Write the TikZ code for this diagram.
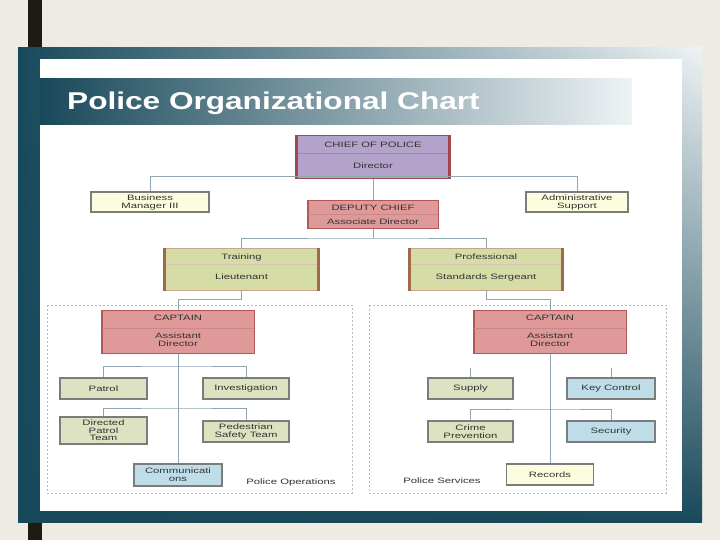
\documentclass[tikz,border=0pt]{standalone}
\usepackage{fontspec}
\usetikzlibrary{shadings}
\setmainfont{Liberation Sans}[FakeStretch=1.45]
\newfontfamily\titlefont{Liberation Sans}[FakeStretch=1.3]
\definecolor{bgc}{HTML}{EDEBE4}
\definecolor{teal1}{HTML}{18495A}
\definecolor{tealhi}{HTML}{EEF3F5}
\definecolor{barc}{HTML}{1C1C14}
\definecolor{purp}{HTML}{B3A3CB}
\definecolor{purpdr}{HTML}{A0484E}
\definecolor{salm}{HTML}{E09999}
\definecolor{salmdr}{HTML}{B25656}
\definecolor{oliv}{HTML}{D6DCA6}
\definecolor{olivdr}{HTML}{A06A48}
\definecolor{lgreen}{HTML}{DCE3C1}
\definecolor{lyel}{HTML}{FDFCDD}
\definecolor{lblue}{HTML}{BEDDE8}
\definecolor{boxgr}{HTML}{7C7C7C}
\definecolor{linec}{HTML}{8FA5B0}
\definecolor{txtc}{HTML}{333333}
\tikzset{
  conn/.style={draw=linec, line width=0.9pt},
  boxbase/.style={rectangle, inner sep=0pt},
  smallbox/.style={boxbase, draw=boxgr, line width=1.8pt},
  bigbox/.style={boxbase, draw=#1, line width=1pt},
  txt/.style={inner sep=0pt, align=center, text=txtc, font=\fontsize{7.8}{8}\selectfont},
  divider/.style={draw=#1, line width=0.6pt},
  grpbox/.style={draw=gray!55, line width=0.6pt, dash pattern=on 2pt off 2pt},
}
\begin{document}
\begin{tikzpicture}[x=1pt,y=-1pt]
\useasboundingbox (0,0) rectangle (720,540);
% background and frame
\fill[bgc] (0,0) rectangle (720,540);
\fill[barc] (28,0) rectangle (42,48);
\fill[barc] (28,522) rectangle (42,540);
\shade[upper left=teal1, upper right=tealhi, lower left=teal1, lower right=teal1] (18,48) rectangle (702,522);
\fill[white] (40,59) rectangle (682,511);
\shade[left color=teal1, right color=tealhi] (40,79) rectangle (632,125);
\node[anchor=west, inner sep=0pt, text=white, font=\titlefont\bfseries\fontsize{24.3}{27}\selectfont] (title) at (67,103) {Police Organizational Chart};

% group boxes
\draw[grpbox] (47,305) rectangle (352,493);
\draw[grpbox] (369,305) rectangle (666,493);

% top level
\node[bigbox=purpdr, fill=purp, minimum width=152pt, minimum height=43pt] (chief) at (373,157.5) {};
\draw[divider=purpdr!70] (chief.west |- 0,153) -- (chief.east |- 0,153);
\draw[purpdr, line width=2.2pt] (chief.north west) -- (chief.south west);
\draw[purpdr, line width=2.2pt] (chief.north east) -- (chief.south east);
\node[txt] (chiefa) at (373,145) {CHIEF OF POLICE};
\node[txt] (chiefb) at (373,166) {Director};

\node[smallbox, fill=lyel, minimum width=118pt, minimum height=20pt] (bm) at (150,202) {};
\node[txt] (bmt) at (150,202.5) {Business\\Manager III};
\node[smallbox, fill=lyel, minimum width=102pt, minimum height=20pt] (as) at (577,202) {};
\node[txt] (ast) at (577,202.5) {Administrative\\Support};

\node[bigbox=salmdr, fill=salm, minimum width=130pt, minimum height=28pt] (dep) at (373,215) {};
\draw[divider=salmdr!70] (dep.west |- 0,214.5) -- (dep.east |- 0,214.5);
\draw[salmdr, line width=1.8pt] (dep.north west) -- (dep.south west);
\draw[salmdr, line width=1.8pt] (dep.north east) -- (dep.south east);
\node[txt] (depa) at (373,208) {DEPUTY CHIEF};
\node[txt] (depb) at (373,221.5) {Associate Director};

\draw[conn] (chief.south) -- (dep.north);
\draw[conn] (bm.north) -- ++(0,-15) -| (as.north);

% second level
\node[bigbox=olivdr!60, fill=oliv, minimum width=153pt, minimum height=42pt] (tr) at (241.5,269) {};
\draw[divider=olivdr!40] (tr.west |- 0,264) -- (tr.east |- 0,264);
\draw[olivdr, line width=2.2pt] (tr.north west) -- (tr.south west);
\draw[olivdr, line width=2.2pt] (tr.north east) -- (tr.south east);
\node[txt] (tra) at (241.5,257) {Training};
\node[txt] (trb) at (241.5,277) {Lieutenant};

\node[bigbox=olivdr!60, fill=oliv, minimum width=152pt, minimum height=42pt] (ps) at (486,269) {};
\draw[divider=olivdr!40] (ps.west |- 0,264) -- (ps.east |- 0,264);
\draw[olivdr, line width=2.2pt] (ps.north west) -- (ps.south west);
\draw[olivdr, line width=2.2pt] (ps.north east) -- (ps.south east);
\node[txt] (psa) at (486,257) {Professional};
\node[txt] (psb) at (486,277) {Standards Sergeant};

\coordinate (j1) at (373,238);
\draw[conn] (dep.south) -- (j1);
\draw[conn] (tr.north) |- (j1) -| (ps.north);

% captains
\node[bigbox=salmdr, fill=salm, minimum width=152pt, minimum height=43pt] (capL) at (178,331.5) {};
\draw[divider=salmdr!70] (capL.west |- 0,328) -- (capL.east |- 0,328);
\draw[salmdr, line width=1.8pt] (capL.north west) -- (capL.south west);
\draw[salmdr, line width=1.8pt] (capL.north east) -- (capL.south east);
\node[txt] (capLa) at (178,318) {CAPTAIN};
\node[txt] (capLb) at (178,340) {Assistant\\Director};

\node[bigbox=salmdr, fill=salm, minimum width=152pt, minimum height=43pt] (capR) at (550,331.5) {};
\draw[divider=salmdr!70] (capR.west |- 0,328) -- (capR.east |- 0,328);
\draw[salmdr, line width=1.8pt] (capR.north west) -- (capR.south west);
\draw[salmdr, line width=1.8pt] (capR.north east) -- (capR.south east);
\node[txt] (capRa) at (550,318) {CAPTAIN};
\node[txt] (capRb) at (550,340) {Assistant\\Director};

\draw[conn] (tr.south) -- ++(0,9) -| (capL.north);
\draw[conn] (ps.south) -- ++(0,9) -| (capR.north);

% left group
\node[smallbox, fill=lgreen, minimum width=87pt, minimum height=21pt] (pat) at (103.5,388.5) {};
\node[txt] (patt) at (103.5,388.5) {Patrol};
\node[smallbox, fill=lgreen, minimum width=86pt, minimum height=21pt] (inv) at (246,388.5) {};
\node[txt] (invt) at (246,388.5) {Investigation};
\node[smallbox, fill=lgreen, minimum width=87pt, minimum height=27pt] (dpt) at (103.5,430.5) {};
\node[txt, font=\fontsize{7.8}{7.5}\selectfont] (dptt) at (103.5,430.5) {Directed\\Patrol\\Team};
\node[smallbox, fill=lgreen, minimum width=86pt, minimum height=21pt] (pst) at (246,431.5) {};
\node[txt] (pstt) at (246,431.5) {Pedestrian\\Safety Team};
\node[smallbox, fill=lblue, minimum width=88pt, minimum height=22pt] (comm) at (178,475) {};
\node[txt] (commt) at (178,475) {Communicati\\ons};
\node[txt, anchor=center] (opslab) at (291,482) {Police Operations};

\coordinate (jL1) at (178,366);
\coordinate (jL2) at (178,408);
\draw[conn] (capL.south) -- (comm.north);
\draw[conn] (pat.north) |- (jL1) -| (inv.north);
\draw[conn] (dpt.north) |- (jL2) -| (pst.north);

% right group
\node[smallbox, fill=lgreen, minimum width=85pt, minimum height=21pt] (sup) at (470.5,388.5) {};
\node[txt] (supt) at (470.5,388.5) {Supply};
\node[smallbox, fill=lblue, minimum width=88pt, minimum height=21pt] (key) at (611,388.5) {};
\node[txt] (keyt) at (611,388.5) {Key Control};
\node[smallbox, fill=lgreen, minimum width=85pt, minimum height=21pt] (cp) at (470.5,431.5) {};
\node[txt] (cpt) at (470.5,431.5) {Crime\\Prevention};
\node[smallbox, fill=lblue, minimum width=88pt, minimum height=21pt] (sec) at (611,431.5) {};
\node[txt] (sect) at (611,431.5) {Security};
\node[smallbox, fill=lyel, minimum width=87pt, minimum height=21pt] (rec) at (550,474.5) {};
\node[txt] (rect) at (550,474.5) {Records};
\node[txt, anchor=center] (srvlab) at (442,480.5) {Police Services};

\coordinate (jR2) at (550,409);
\draw[conn] (capR.south) -- (rec.north);
\draw[conn] (sup.north) -- ++(0,-9);
\draw[conn] (key.north) -- ++(0,-9);
\draw[conn] (cp.north) |- (jR2) -| (sec.north);
\end{tikzpicture}
\end{document}
